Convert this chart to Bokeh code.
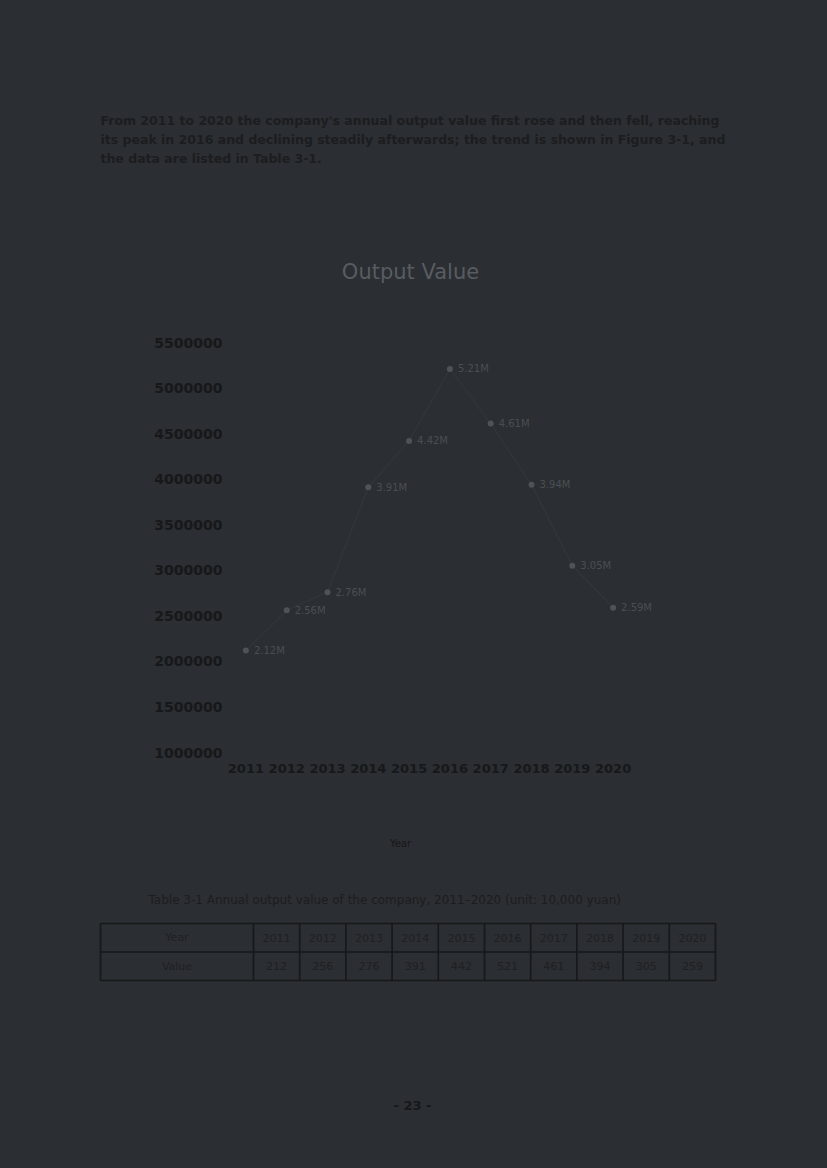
from bokeh.plotting import figure
from bokeh.models import (Label, Range1d, FixedTicker, ColumnDataSource,
                          LabelSet, NumeralTickFormatter)
from bokeh.embed import file_html
from bokeh.resources import INLINE
from bokeh.core.properties import value

# ---------------- data ----------------
years = ["2011", "2012", "2013", "2014", "2015", "2016", "2017", "2018", "2019", "2020"]
output_value = [2120000, 2560000, 2760000, 3910000, 4420000, 5210000, 4610000, 3940000, 3050000, 2590000]
y_ticks = [1000000, 1500000, 2000000, 2500000, 3000000, 3500000, 4000000, 4500000, 5000000, 5500000]

chart_title = "Output Value"
x_caption = "Year"
paragraph = [
    "From 2011 to 2020 the company's annual output value first rose and then fell, reaching",
    "its peak in 2016 and declining steadily afterwards; the trend is shown in Figure 3-1, and",
    "the data are listed in Table 3-1.",
]
table_caption = "Table 3-1   Annual output value of the company, 2011\u20132020 (unit: 10,000 yuan)"
table_row_labels = ["Year", "Value"]
page_number = "- 23 -"

# ---------------- styles ----------------
BG = "#2b2e32"
DARK = "#16181a"
FONT = "DejaVu Sans"
W = 827


def blank(height):
    f = figure(width=W, height=height, output_backend="svg", toolbar_location=None,
               x_axis_location=None, y_axis_location=None,
               min_border_left=0, min_border_right=0, min_border_top=0, min_border_bottom=0,
               background_fill_color=BG, border_fill_color=BG, outline_line_color=None)
    f.xgrid.grid_line_color = None
    f.ygrid.grid_line_color = None
    return f


# ---------------- header (paragraph + chart title) ----------------
H1 = 330
head = blank(H1)
head.x_range = Range1d(0, W)
head.y_range = Range1d(0, H1)
for i, line in enumerate(paragraph):
    head.add_layout(Label(x=100, y=H1 - 120 - 19 * i, x_units="screen", y_units="screen",
                          text=line, text_font=FONT, text_font_size="12.5px",
                          text_font_style="bold", text_color="#1b1d20",
                          text_baseline="middle"))
head.add_layout(Label(x=410, y=H1 - 271, x_units="screen", y_units="screen", text=chart_title,
                      text_font=FONT, text_font_size="21px", text_color="#585c61",
                      text_align="center", text_baseline="middle"))

# ---------------- chart ----------------
H2 = 460
x_idx = list(range(1, len(years) + 1))
src = ColumnDataSource(dict(
    x=x_idx,
    value=output_value,
    label=[f"{v / 1e6:.2f}M" for v in output_value],
))
step = 40.8
p = figure(width=W, height=H2, x_range=Range1d(0.5, 0.5 + 475 / step),
           y_range=Range1d(y_ticks[0], y_ticks[-1]),
           output_backend="svg", toolbar_location=None,
           min_border_left=225, min_border_right=W - 700,
           min_border_top=12, min_border_bottom=38,
           background_fill_color=BG, border_fill_color=BG,
           outline_line_color=None)

p.line(x="x", y="value", source=src, line_color="#313539", line_width=1.5)
p.scatter(x="x", y="value", source=src, size=6, fill_color="#4f5358", line_color=None)
p.add_layout(LabelSet(x="x", y="value", text="label", source=src, x_offset=8,
                      text_baseline="middle", text_font=value(FONT),
                      text_font_size="10px", text_color="#4a4e53"))

p.xgrid.grid_line_color = None
p.ygrid.grid_line_color = None
for ax in (p.xaxis, p.yaxis):
    ax.axis_line_color = None
    ax.major_tick_line_color = None
    ax.minor_tick_line_color = None
    ax.major_tick_out = 0
    ax.major_tick_in = 0
    ax.major_label_text_font = FONT
    ax.major_label_text_font_style = "bold"
    ax.major_label_text_color = DARK
p.yaxis.ticker = FixedTicker(ticks=y_ticks)
p.yaxis.formatter = NumeralTickFormatter(format="0")
p.yaxis.major_label_text_font_size = "14px"
p.yaxis.major_label_standoff = 3
p.xaxis.ticker = FixedTicker(ticks=x_idx)
p.xaxis.major_label_overrides = {i: y for i, y in zip(x_idx, years)}
p.xaxis.major_label_text_font_size = "13px"
p.xaxis.major_label_standoff = 11

# ---------------- footer (caption, table, page number) ----------------
TOP3 = H1 + H2          # 790
H3 = 1168 - TOP3        # 378
foot = blank(H3)
n = len(years)
col_px = 46.2
row_px = 28.5
label_w = 153 / col_px
table_left = 100
table_bottom = 1168 - 980
foot.x_range = Range1d(-table_left / col_px, (W - table_left) / col_px)
foot.y_range = Range1d(-table_bottom / row_px, (H3 - table_bottom) / row_px)

vx = [0] + [label_w + i for i in range(n + 1)]
foot.segment(x0=vx, y0=[0] * len(vx), x1=vx, y1=[2] * len(vx), line_color=DARK, line_width=1.6)
foot.segment(x0=[0, 0, 0], y0=[0, 1, 2], x1=[label_w + n] * 3, y1=[0, 1, 2],
             line_color=DARK, line_width=1.6)
cx = [label_w / 2] + [label_w + i + 0.5 for i in range(n)]
foot.text(x=cx, y=[1.5] * (n + 1), text=[table_row_labels[0]] + years,
          text_font=value(FONT), text_font_size="11px", text_color="#1e2023",
          text_align="center", text_baseline="middle")
foot.text(x=cx, y=[0.5] * (n + 1),
          text=[table_row_labels[1]] + [f"{v / 1e4:.0f}" for v in output_value],
          text_font=value(FONT), text_font_size="11px", text_color="#1e2023",
          text_align="center", text_baseline="middle")

foot.add_layout(Label(x=400, y=1168 - 843, x_units="screen", y_units="screen", text=x_caption,
                      text_font=FONT, text_font_size="10px", text_color=DARK,
                      text_align="center", text_baseline="middle"))
foot.add_layout(Label(x=148, y=1168 - 899, x_units="screen", y_units="screen", text=table_caption,
                      text_font=FONT, text_font_size="12px", text_color="#1b1d20",
                      text_baseline="middle"))
foot.add_layout(Label(x=412, y=1168 - 1105, x_units="screen", y_units="screen", text=page_number,
                      text_font=FONT, text_font_size="13px", text_font_style="bold",
                      text_color=DARK, text_align="center", text_baseline="middle"))

html = file_html([head, p, foot], INLINE)
html = html.replace("<head>", "<head><style>body{background:#2b2e32;}</style>", 1)
open("out.html", "w").write(html)
